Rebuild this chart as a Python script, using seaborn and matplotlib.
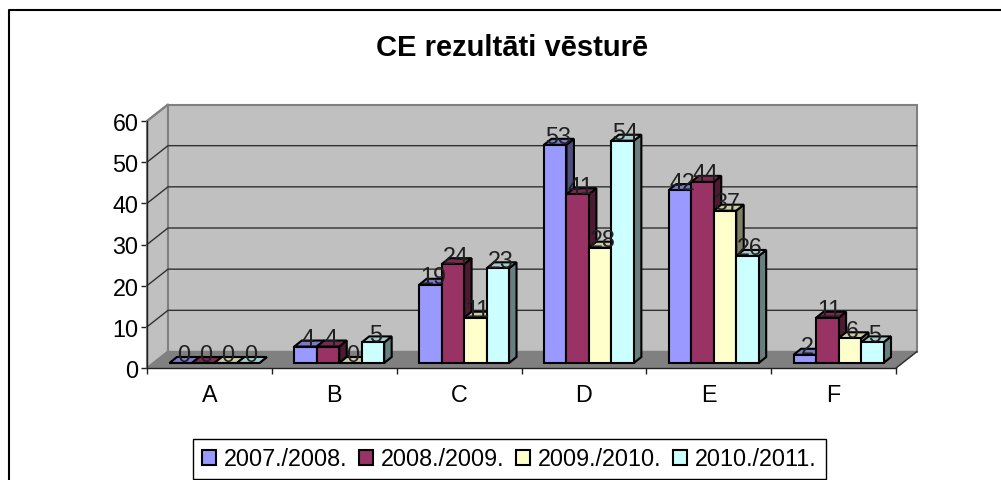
import seaborn as sns
import pandas as pd
import matplotlib.pyplot as plt
import matplotlib.colors as mc
from matplotlib.patches import Polygon
from matplotlib.lines import Line2D

# chart values
grades = ['A', 'B', 'C', 'D', 'E', 'F']
years = ['2007./2008.', '2008./2009.', '2009./2010.', '2010./2011.']
y0708 = [0, 4, 19, 53, 42, 2]
y0809 = [0, 4, 24, 41, 44, 11]
y0910 = [0, 0, 11, 28, 37, 6]
y1011 = [0, 5, 23, 54, 26, 5]
colors = ['#9999FF', '#993366', '#FFFFCC', '#CCFFFF']
yticks = [0, 10, 20, 30, 40, 50, 60]

data = pd.DataFrame({'Grade': grades, years[0]: y0708, years[1]: y0809,
                     years[2]: y0910, years[3]: y1011})
long_data = data.melt(id_vars='Grade', var_name='Year', value_name='Count')

sns.set_style('white')
plt.rcParams['font.family'] = ['Liberation Sans', 'DejaVu Sans']
plt.rcParams['text.color'] = 'black'
plt.rcParams['xtick.labelcolor'] = 'black'
plt.rcParams['ytick.labelcolor'] = 'black'

W, H = 1001, 481
fs = 16.8
fig = plt.figure(figsize=(W / 100, H / 100), dpi=100)
# axes frame is the front of the 3D box, in pixels
left, right, top, bottom = 147, 896, 122, 369
ax = fig.add_axes([left / W, 1 - bottom / H, (right - left) / W, (bottom - top) / H])

sns.barplot(data=long_data, x='Grade', y='Count', hue='Year', palette=colors,
            width=0.72, saturation=1, edgecolor='black', linewidth=1.5, ax=ax)
ax.set_xlim(-0.5, 5.5)
ax.set_ylim(0, 60)

px = 1 / ((right - left) / 6)  # one pixel in x units
py = 60 / (bottom - top)       # one pixel in y units
wall_dx, wall_dy = 21 * px, 16.5 * py
bar_dx, bar_dy = 7.5 * px, 6 * py
shift_x, shift_y = 5 * px, 5 * py


def shade(color, f):
    r, g, b = mc.to_rgb(color)
    return (r * f, g * f, b * f)


# walls and floor
ax.add_patch(Polygon([(-0.5, 0), (-0.5 + wall_dx, wall_dy), (-0.5 + wall_dx, 60 + wall_dy), (-0.5, 60)],
                     fc='#C0C0C0', ec='#808080', lw=1.5, clip_on=False, zorder=1))
ax.add_patch(Polygon([(-0.5 + wall_dx, wall_dy), (5.5 + wall_dx, wall_dy), (5.5 + wall_dx, 60 + wall_dy),
                      (-0.5 + wall_dx, 60 + wall_dy)],
                     fc='#C0C0C0', ec='#808080', lw=1.5, clip_on=False, zorder=1))
ax.add_patch(Polygon([(-0.5, 0), (5.5, 0), (5.5 + wall_dx, wall_dy), (-0.5 + wall_dx, wall_dy)],
                     fc='#808080', ec='#808080', lw=1, clip_on=False, zorder=1.5))
for t in yticks[1:-1]:
    ax.add_line(Line2D([-0.5, -0.5 + wall_dx, 5.5 + wall_dx], [t, t + wall_dy, t + wall_dy],
                       color='#303030', lw=1, clip_on=False, zorder=1.2))
ax.add_line(Line2D([-0.5, -0.5 + wall_dx], [60, 60 + wall_dy], color='#808080', lw=1.5,
                   clip_on=False, zorder=1.2))
ax.add_line(Line2D([5.5, 5.5 + wall_dx], [0, wall_dy], color='#303030', lw=1,
                   clip_on=False, zorder=1.6))

# move bars onto the floor and add the side and top faces
z = 2
for container in ax.containers:
    for bar in container:
        bar.set_x(bar.get_x() + shift_x)
        bar.set_y(bar.get_y() + shift_y)
for i in range(len(grades)):
    for container, color in zip(ax.containers, colors):
        bar = container[i]
        x0, y0 = bar.get_x(), bar.get_y()
        w, h = bar.get_width(), bar.get_height()
        x1, y1 = x0 + w, y0 + h
        ax.add_patch(Polygon([(x1, y0), (x1 + bar_dx, y0 + bar_dy), (x1 + bar_dx, y1 + bar_dy), (x1, y1)],
                             fc=shade(color, 0.5), ec='black', lw=1.5, clip_on=False, zorder=z))
        ax.add_patch(Polygon([(x0, y1), (x1, y1), (x1 + bar_dx, y1 + bar_dy), (x0 + bar_dx, y1 + bar_dy)],
                             fc=shade(color, 0.8), ec='black', lw=1.5, clip_on=False, zorder=z))
        bar.set_zorder(z + 0.5)
        bar.set_clip_on(False)
        z += 1

# value labels
for container in ax.containers:
    for bar in container:
        ax.annotate(f'{bar.get_height():.0f}', (bar.get_x() + bar.get_width() / 2, bar.get_y() + bar.get_height()),
                    xytext=(2.5, 1.5), textcoords='offset pixels', ha='center', va='baseline',
                    fontsize=fs, color='#202020', zorder=100, annotation_clip=False)

sns.despine(ax=ax, top=True, right=True)
for s in ['left', 'bottom']:
    ax.spines[s].set_color('#202020')
    ax.spines[s].set_linewidth(1)
    ax.spines[s].set_zorder(1.8)
ax.set_xlabel('')
ax.set_ylabel('')
ax.set_yticks(yticks)
ax.set_xticks([i - 0.5 for i in range(7)], minor=True)
ax.set_xticks(range(6))
ax.set_xticklabels(grades)
ax.tick_params(axis='x', which='major', length=0, pad=10.5, labelsize=fs)
ax.tick_params(axis='x', which='minor', bottom=True, length=4.5, width=1, color='#202020')
ax.tick_params(axis='y', left=True, length=4, width=1, color='#202020', pad=2, labelsize=fs)

fig.text(512 / W, 1 - 56 / H, 'CE rezultāti vēsturē', ha='center', va='baseline',
         fontsize=21, fontweight='bold', color='black')

handles = ax.get_legend().legend_handles
ax.get_legend().remove()
leg = fig.legend(handles, years, ncol=4, loc='center', bbox_to_anchor=(509.5 / W, 1 - 460 / H),
                 frameon=True, fancybox=False, edgecolor='black', framealpha=1, fontsize=fs,
                 handlelength=0.6, handleheight=0.6, handletextpad=0.34, columnspacing=0.5,
                 borderpad=0.38, borderaxespad=0)
leg.get_frame().set_linewidth(1)

# outer chart border, open at the bottom and the right
fig.add_artist(Line2D([8.5 / W, 8.5 / W, 1], [0, 1 - 11 / H, 1 - 11 / H],
                      color='black', lw=1.5))

fig.savefig('out.png', dpi=100)
